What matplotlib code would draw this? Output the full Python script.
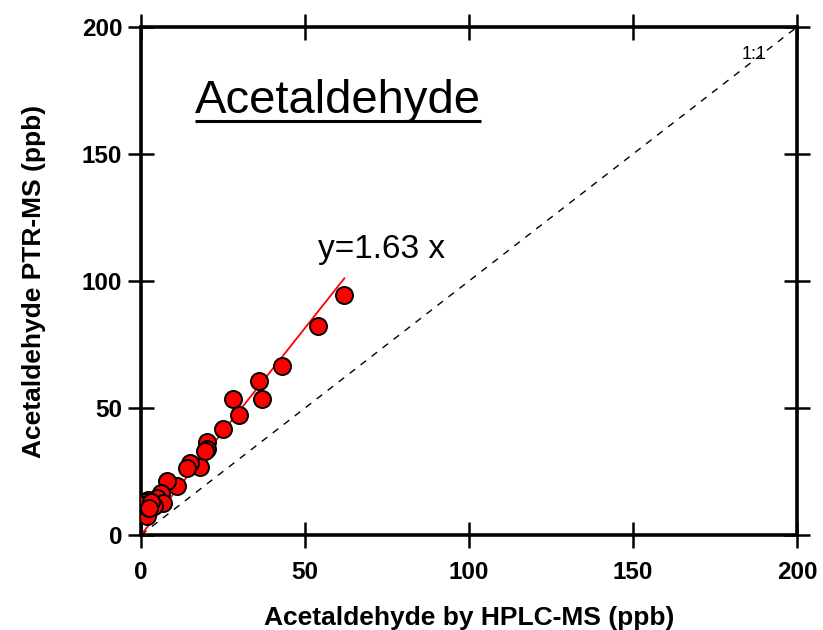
import numpy as np
import matplotlib.pyplot as plt

plt.rcParams['font.family'] = ['Liberation Sans', 'DejaVu Sans']

# data
hplc = [62, 54, 43, 36, 36.9, 28, 30, 25, 20, 20.2, 19.5, 18, 14.9, 14.1, 11.1,
        8.0, 6.0, 4.8, 6.8, 4.0, 2.2, 1.2, 0.7, 1.9, 0.2, 3.0, 2.5]
ptr = [94.5, 82.3, 66.5, 60.6, 53.5, 53.5, 47.2, 41.7, 36.7, 33.7, 33, 26.9, 28.2, 26.2, 19.3,
       21.4, 16.4, 14.4, 12.5, 11.4, 13.8, 13.1, 9.8, 7.5, 11.8, 12.8, 10.5]
slope = 1.63
fit_x = [0, 62]
ticks = [0, 50, 100, 150, 200]

fig = plt.figure(figsize=(8.23, 6.30), dpi=100)
ax = fig.add_axes([0.1713, 0.1508, 0.7971, 0.8063])

# 1:1 line
ax.plot([0, 200], [0, 200], color='black', lw=1.0, ls=(0, (5, 5)), zorder=1)
ax.text(183, 189, '1:1', fontsize=13, ha='left', va='center')

# fit line
fx = np.array(fit_x)
ax.plot(fx, slope * fx, color='red', lw=1.3, zorder=2)

ax.scatter(hplc, ptr, s=150, c='red', edgecolors='black', linewidths=1.4, zorder=3)

ax.set_xlim(0, 200)
ax.set_ylim(0, 200)
ax.set_xticks(ticks)
ax.set_yticks(ticks)
ax.tick_params(direction='inout', length=19, width=1.8, labelsize=17.5,
               top=True, right=True)
ax.tick_params(axis='x', pad=9)
ax.tick_params(axis='y', pad=4)
for lbl in ax.get_xticklabels() + ax.get_yticklabels():
    lbl.set_fontweight('bold')
for sp in ax.spines.values():
    sp.set_linewidth(2.6)

ax.set_xlabel('Acetaldehyde by HPLC-MS (ppb)', fontsize=19, fontweight='bold', labelpad=16)
ax.set_ylabel('Acetaldehyde PTR-MS (ppb)', fontsize=19, fontweight='bold', labelpad=26)

ax.text(54, 109, 'y=1.63 x', fontsize=24, ha='left', va='baseline')
title = ax.text(16.5, 166, 'Acetaldehyde', fontsize=34, ha='left', va='baseline')

# underline the title
fig.canvas.draw()
bb = title.get_window_extent(renderer=fig.canvas.get_renderer())
inv = ax.transData.inverted()
(x0, _), (x1, _) = inv.transform([(bb.x0, bb.y0), (bb.x1, bb.y0)])
uy = 166 - 3.0
ax.plot([x0, x1], [uy, uy], color='black', lw=2.2, solid_capstyle='butt')

fig.savefig('out.png', dpi=100)
